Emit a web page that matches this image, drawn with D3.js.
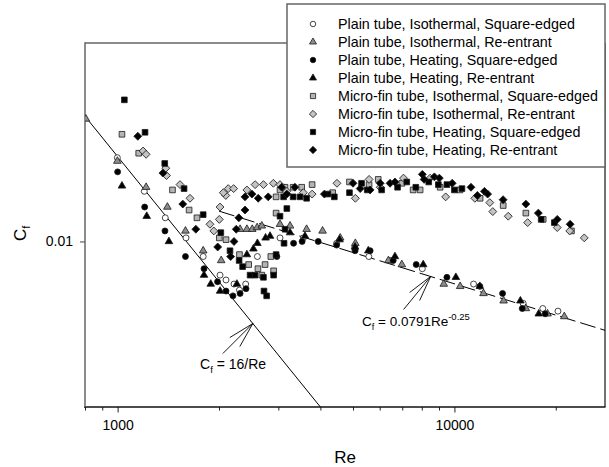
<!DOCTYPE html>
<html><head><meta charset="utf-8">
<script src="https://cdn.jsdelivr.net/npm/d3@7"></script>
<style>
html,body{margin:0;padding:0;background:#fff;}
text{font-family:"Liberation Sans",Arial,Helvetica,sans-serif;fill:#000;}
</style></head>
<body><svg id="chart" width="609" height="467"></svg>
<script>
// ---- data (Re, Cf) ----
const seriesNames = [
  "Plain tube, Isothermal, Square-edged",
  "Plain tube, Isothermal, Re-entrant",
  "Plain tube, Heating, Square-edged",
  "Plain tube, Heating, Re-entrant",
  "Micro-fin tube, Isothermal, Square-edged",
  "Micro-fin tube, Isothermal, Re-entrant",
  "Micro-fin tube, Heating, Square-edged",
  "Micro-fin tube, Heating, Re-entrant"
];
const plainIsoSquare = [[998,0.0159],[1200,0.0132],[1385,0.0114],[1596,0.0102],[1795,0.0092],[2014,0.0083],[2098,0.00808],[2216,0.0079],[2300,0.00764],[2400,0.0079],[2600,0.0092],[3035,0.0102],
  [3560,0.0102],[4470,0.0099],[5060,0.0097],[5570,0.0092],[6440,0.0090],[8030,0.0086],[11400,0.0079],[16000,0.0071],[18300,0.0069],[20300,0.0068]];
const plainIsoReentrant = [[805,0.0197],[998,0.0156],[1215,0.0135],[1405,0.0121],[1590,0.0106],[1795,0.0095],[2030,0.0090],[2310,0.0107],[2420,0.0107],[2510,0.0107],[2595,0.0108],[2680,0.0109],[3035,0.0110],
  [3250,0.0109],[3640,0.0107],[4060,0.0106],[4580,0.0102],[5080,0.0099],[6370,0.0090],[6980,0.0088],[9300,0.0079],[10400,0.0078],[12200,0.0075],[14000,0.0072],[16300,0.0069],[18900,0.0067],[21200,0.0066]];
const plainHeatSquare = [[1000,0.0147],[1203,0.0121],[1382,0.0106],[1590,0.0092],[1805,0.0086],[1980,0.0080],[2098,0.0076],[2200,0.0074],[2310,0.0075],[2405,0.0077],[2970,0.0092],
  [3330,0.0099],[3530,0.0100],[3940,0.0100],[4470,0.0098],[5070,0.0095],[5620,0.0095],[6580,0.0090],[7700,0.0088],[9500,0.0082],[11900,0.0078],[13900,0.0075],[15900,0.0069],[18600,0.0067]];
const plainHeatReentrant = [[1030,0.0136],[1220,0.0115],[1420,0.0100],[1805,0.0083],[1890,0.0079],[2015,0.0076],[2260,0.0079],[2420,0.0093],[2530,0.0096],[2600,0.0099],[2750,0.0102],[2835,0.0103],
  [3250,0.0105],[3600,0.0103],[4560,0.0101],[5070,0.0097],[5550,0.0095],[6660,0.0092],[8080,0.0088],[10100,0.0082],[11900,0.0078],[15700,0.0072],[17800,0.0067]];
const microIsoSquare = [[1030,0.0181],[1155,0.0163],[1455,0.0133],[1630,0.0119],[1720,0.0114],[2004,0.0102],[2098,0.0101],[2300,0.0093],[2450,0.0088],[2610,0.0086],[2740,0.0088],[2680,0.0083],[2850,0.0092],[2905,0.0085],[2955,0.0117],[2955,0.0128],
  [3035,0.0133],[3140,0.0135],[3320,0.0135],[3520,0.0135],[3780,0.0137],[4350,0.0131],[4880,0.0139],[5580,0.0137],[5940,0.0141],[6980,0.0138],[7540,0.0133],[7910,0.0133],[9070,0.0135],[10390,0.0133],[11920,0.0127],[13960,0.0122],[16300,0.0117],[18350,0.0113],[22260,0.0106]];
const microIsoReentrant = [[1190,0.0165],[1215,0.0162],[1390,0.0150],[1397,0.0144],[1532,0.0137],[1640,0.0127],[1880,0.0110],[1930,0.0106],[2004,0.0113],[2014,0.0121],[2095,0.0129],[2060,0.0131],[2130,0.0134],[2210,0.0134],[2420,0.0133],[2560,0.0137],[2710,0.0137],[2900,0.0138],
  [3035,0.0137],[3180,0.0132],[3560,0.0131],[3780,0.0130],[4480,0.0138],[5080,0.0127],[5580,0.0141],[6020,0.0135],[7060,0.0142],[8470,0.0142],[9420,0.0128],[11500,0.0127],[12740,0.0124],[13000,0.0118],[14450,0.0115],[16500,0.0111],[20200,0.0108],[22000,0.0106],[24300,0.0102]];
const microHeatSquare = [[1047,0.0219],[1206,0.0183],[1380,0.0154],[1575,0.0134],[1795,0.0116],[2025,0.0105],[2156,0.0095],[2295,0.0090],[2350,0.0087],[2473,0.0083],[2559,0.0083],[2710,0.0082],[2720,0.0076],[2770,0.0074],[2905,0.0083],[2955,0.0093],[3120,0.0099],[3141,0.0107],[3035,0.0115],[3180,0.0120],
  [3110,0.0128],[3320,0.0128],[3480,0.0128],[3640,0.0127],[4210,0.0130],[4400,0.0128],[4880,0.0131],[5300,0.0138],[5510,0.0133],[6080,0.0133],[6780,0.0135],[7220,0.0139],[7680,0.0135],[8390,0.0139],[8960,0.0137],[9500,0.0137],[10000,0.0133],[10530,0.0134],[18100,0.0113],[19800,0.0111]];
const microHeatReentrant = [[1148,0.0179],[1363,0.0146],[1561,0.0123],[1707,0.0107],[1982,0.0097],[2166,0.0092],[2216,0.0100],[2250,0.0107],[2290,0.0114],[2389,0.0119],[2389,0.0128],[2505,0.0130],[2615,0.0127],[2800,0.0128],
  [3070,0.0135],[3180,0.0130],[3360,0.0135],[4110,0.0130],[5000,0.0138],[5250,0.0134],[5620,0.0133],[6020,0.0138],[6440,0.0138],[6660,0.0139],[8030,0.0145],[8130,0.0141],[8720,0.0143],[9020,0.0142],[9850,0.0138],[11200,0.0135],[11700,0.0129],[12280,0.0132],[12550,0.0130],[13950,0.0126],[16300,0.0123],[17750,0.0117],[20200,0.0113],[22060,0.0110]];
const allSeries = [plainIsoSquare, plainIsoReentrant, plainHeatSquare, plainHeatReentrant, microIsoSquare, microIsoReentrant, microHeatSquare, microHeatReentrant];

const xTickLabels = [1000, 10000];
const xMinorTicks = [800, 900, 2000, 3000, 4000, 5000, 6000, 7000, 8000, 9000, 20000];
const yTickLabels = [0.01];
const laminarRange = [800, 4000];      // Cf = 16/Re
const turbulentRange = [2000, 28000];  // Cf = 0.0791 Re^-0.25

// ---- styles ----
const markerStyles = [
  {type:"circle", fill:"#ffffff"},
  {type:"triangle", fill:"#8c8c8c"},
  {type:"circle", fill:"#000000"},
  {type:"triangle", fill:"#000000"},
  {type:"square", fill:"#b4b4b4"},
  {type:"diamond", fill:"#c4c4c4"},
  {type:"square", fill:"#000000"},
  {type:"diamond", fill:"#000000"}
];

const svg = d3.select("#chart");
const x = d3.scaleLog().domain([800, 28000]).range([85, 605]);
const y = d3.scaleLog().domain([0.004, 0.03]).range([407, 43]);

function symbolPath(type, k){
  k = k || 1;
  if(type==="circle") return d3.symbol(d3.symbolCircle, 28*k)();
  if(type==="triangle") return d3.symbol(d3.symbolTriangle, 25*k)();
  if(type==="square") return d3.symbol(d3.symbolSquare, 32*k)();
  return d3.symbol(d3.symbolSquare, 31*k)();
}
function symbolTransform(type, px, py){
  return `translate(${px},${py})` + (type==="diamond" ? " rotate(45)" : "");
}

// frame (top / right)
svg.append("line").attr("x1",85).attr("x2",605).attr("y1",43).attr("y2",43).attr("stroke","#666").attr("stroke-width",1.5);
svg.append("line").attr("x1",605).attr("x2",605).attr("y1",43).attr("y2",407).attr("stroke","#444").attr("stroke-width",1.5);

// clip
svg.append("clipPath").attr("id","plotclip").append("rect").attr("x",85).attr("y",43).attr("width",520).attr("height",364);

// x axis
const xAxisG = svg.append("g").attr("transform","translate(0,407)");
xAxisG.call(d3.axisBottom(x).tickValues(xTickLabels).tickFormat(d3.format("d")).tickSize(5.5).tickPadding(8));
xAxisG.select(".domain").remove();
xAxisG.selectAll(".tick line").attr("stroke","#222").attr("stroke-width",1);
xAxisG.selectAll(".tick text").attr("font-size",14).attr("font-family","Liberation Sans, Arial, sans-serif").attr("fill","#111");
const xMinorG = svg.append("g").attr("transform","translate(0,407)");
xMinorG.call(d3.axisBottom(x).tickValues(xMinorTicks).tickFormat("").tickSize(3.5));
xMinorG.select(".domain").remove();
xMinorG.selectAll(".tick line").attr("stroke","#222").attr("stroke-width",1);
svg.append("line").attr("x1",84).attr("x2",605.5).attr("y1",407).attr("y2",407).attr("stroke","#111").attr("stroke-width",1.5);

// y axis
const yAxisG = svg.append("g").attr("transform","translate(85,0)");
yAxisG.call(d3.axisLeft(y).tickValues(yTickLabels).tickFormat(d3.format(".2")).tickSize(5).tickPadding(7));
yAxisG.select(".domain").remove();
yAxisG.selectAll(".tick line").attr("stroke","#444").attr("stroke-width",1);
yAxisG.selectAll(".tick text").attr("font-size",14).attr("font-family","Liberation Sans, Arial, sans-serif").attr("fill","#111");
svg.append("line").attr("x1",85).attr("x2",85).attr("y1",42.25).attr("y2",407).attr("stroke","#666").attr("stroke-width",1.5);

// axis titles
svg.append("text").attr("x",345).attr("y",463).attr("text-anchor","middle").attr("font-size",17).text("Re");
const yt = svg.append("text").attr("transform","translate(26,241) rotate(-90)").attr("font-size",17);
yt.append("tspan").text("C");
yt.append("tspan").attr("font-size",11).attr("dy",4).text("f");

// reference lines
const plotG = svg.append("g").attr("clip-path","url(#plotclip)");
plotG.append("line")
  .attr("x1",x(laminarRange[0])).attr("y1",y(16/laminarRange[0]))
  .attr("x2",x(laminarRange[1])).attr("y2",y(16/laminarRange[1]))
  .attr("stroke","#000").attr("stroke-width",1);
plotG.append("line")
  .attr("x1",x(turbulentRange[0])).attr("y1",y(0.0791*Math.pow(turbulentRange[0],-0.25)))
  .attr("x2",x(turbulentRange[1])).attr("y2",y(0.0791*Math.pow(turbulentRange[1],-0.25)))
  .attr("stroke","#000").attr("stroke-width",1).attr("stroke-dasharray","16,5");

// markers
allSeries.forEach((data,i)=>{
  const st = markerStyles[i];
  plotG.append("g").selectAll("path").data(data).join("path")
    .attr("d", symbolPath(st.type))
    .attr("transform", d=>symbolTransform(st.type, x(d[0]), y(d[1])))
    .attr("fill", st.fill).attr("stroke","#1a1a1a").attr("stroke-width",0.8);
});

// annotations
function arrow(reTip, cfTip, shaft, barbs){
  const tx = x(reTip), ty = y(cfTip);
  const g = svg.append("g").attr("stroke","#000").attr("stroke-width",0.9);
  [shaft].concat(barbs).forEach(v=>{
    g.append("line").attr("x1",tx).attr("y1",ty).attr("x2",tx+v[0]).attr("y2",ty+v[1]);
  });
}
arrow(2520, 16/2520, [-30,30], [[-23,14],[-13,23]]);
const t1 = svg.append("text").attr("x",200).attr("y",369).attr("font-size",14);
t1.append("tspan").text("C");
t1.append("tspan").attr("font-size",9.5).attr("dy",4).text("f");
t1.append("tspan").attr("dy",-4).text(" = 16/Re");

arrow(8500, 0.0791*Math.pow(8500,-0.25), [-27,33], [[-21,16],[-11,24]]);
const t2 = svg.append("text").attr("x",362).attr("y",326).attr("font-size",13.5);
t2.append("tspan").text("C");
t2.append("tspan").attr("font-size",9).attr("dy",4).text("f");
t2.append("tspan").attr("dy",-4).text(" = 0.0791Re");
t2.append("tspan").attr("font-size",9.5).attr("dy",-6).text("-0.25");

// legend
const lg = svg.append("g");
lg.append("rect").attr("x",287).attr("y",4).attr("width",318).attr("height",163).attr("fill","#fff").attr("stroke","#666").attr("stroke-width",1.5);
seriesNames.forEach((name,i)=>{
  const st = markerStyles[i];
  const cy = 24 + i*18;
  lg.append("path").attr("d",symbolPath(st.type, 0.85)).attr("transform",symbolTransform(st.type,313,cy))
    .attr("fill",st.fill).attr("stroke","#1a1a1a").attr("stroke-width",0.8);
  lg.append("text").attr("x",338).attr("y",cy).attr("dy","0.36em").attr("font-size",14.3).text(name);
});
</script>
</body></html>
